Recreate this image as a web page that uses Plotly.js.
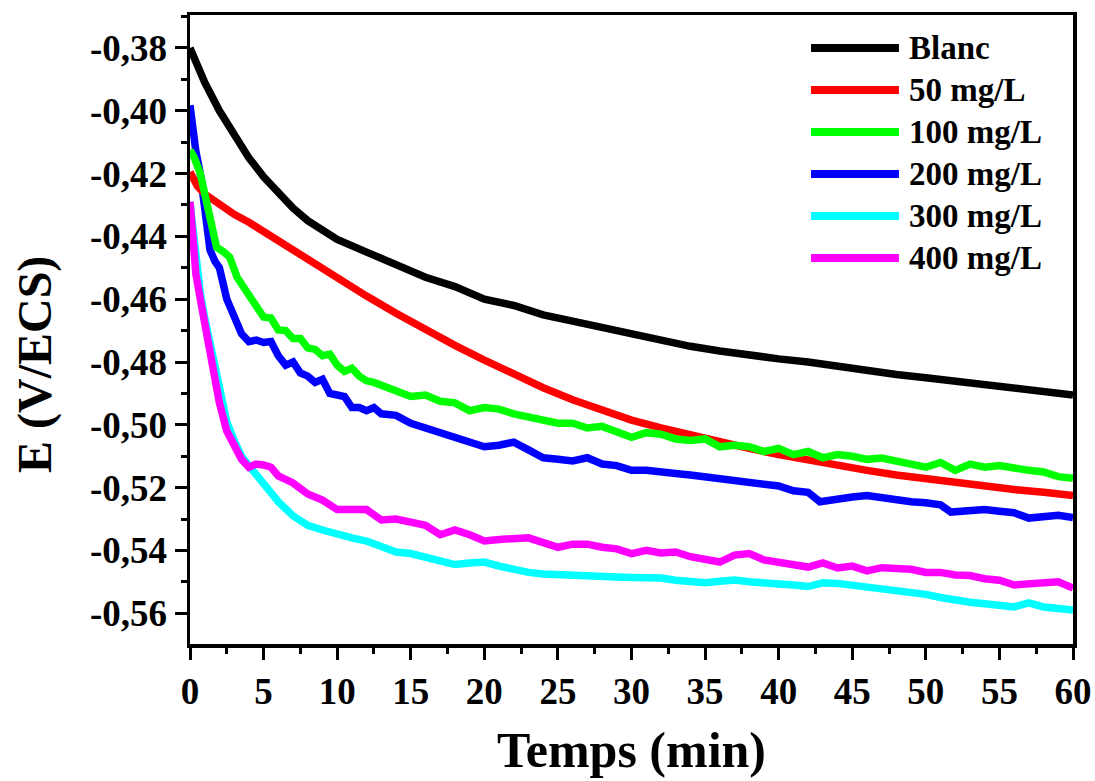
<!DOCTYPE html>
<html>
<head>
<meta charset="utf-8">
<script src="https://cdn.plot.ly/plotly-3.0.1.min.js"></script>
<style>
  html, body { margin: 0; padding: 0; background: #ffffff; }
  #chart { width: 1095px; height: 781px; }
</style>
</head>
<body>
<div id="chart"></div>
<script>
// ---- data ----
const seriesNames = ['Blanc', '50 mg/L', '100 mg/L', '200 mg/L', '300 mg/L', '400 mg/L'];
const seriesColors = ['#000000', '#ff0000', '#00ff00', '#0000ff', '#00ffff', '#ff00ff'];

const tBlanc = [0, 0.5, 1, 2, 3, 4, 5, 6, 7, 8, 9, 10, 12, 14, 16, 18, 20, 22, 24, 26, 28, 30, 32, 34, 36, 38, 40, 42, 44, 46, 48, 50, 52, 54, 56, 58, 60];
const eBlanc = [-0.380, -0.386, -0.391, -0.400, -0.408, -0.415, -0.421, -0.426, -0.431, -0.435, -0.438, -0.441, -0.445, -0.449, -0.453, -0.456, -0.460, -0.462, -0.465, -0.467, -0.469, -0.4715, -0.473, -0.475, -0.4765, -0.478, -0.479, -0.480, -0.4815, -0.483, -0.484, -0.485, -0.486, -0.487, -0.488, -0.489, -0.4905];

const t50 = [0, 0.5, 1, 2, 3, 4, 5, 6, 7, 8, 9, 10, 12, 14, 16, 18, 20, 22, 24, 26, 28, 30, 32, 34, 36, 38, 40, 42, 44, 46, 48, 50, 52, 54, 56, 58, 60];
const e50 = [-0.4195, -0.424, -0.4265, -0.430, -0.433, -0.4355, -0.4385, -0.4415, -0.4445, -0.4475, -0.4505, -0.4535, -0.459, -0.4645, -0.4697, -0.4747, -0.4794, -0.4840, -0.4882, -0.4920, -0.4955, -0.4985, -0.501, -0.5033, -0.5055, -0.5075, -0.5095, -0.5113, -0.513, -0.5145, -0.516, -0.5173, -0.5185, -0.5196, -0.5206, -0.5215, -0.5225];

const t100 = [0, 0.3, 0.7, 1.0, 1.36, 1.8, 2.3, 2.7, 3.2, 3.9, 4.5, 5, 5.5, 6, 6.5, 7, 7.5, 8, 8.5, 9, 9.5, 10, 10.5, 11, 11.5, 12, 12.5, 13, 14, 15, 16, 17, 18, 19, 20, 21, 22, 23, 24, 25, 26, 27, 28, 29, 30, 31, 32, 33, 34, 35, 36, 37, 38, 39, 40, 41, 42, 43, 44, 45, 46, 47, 48, 49, 50, 51, 52, 53, 54, 55, 56, 57, 58, 59, 60];
const e100 = [-0.4125, -0.415, -0.420, -0.427, -0.434, -0.4434, -0.445, -0.4466, -0.453, -0.458, -0.462, -0.4657, -0.466, -0.4698, -0.470, -0.4725, -0.4725, -0.4755, -0.476, -0.478, -0.4775, -0.481, -0.483, -0.482, -0.4845, -0.486, -0.4865, -0.4875, -0.489, -0.491, -0.4905, -0.4925, -0.493, -0.4955, -0.4945, -0.495, -0.4965, -0.4975, -0.498, -0.4995, -0.4995, -0.501, -0.5005, -0.5025, -0.504, -0.5025, -0.503, -0.5045, -0.505, -0.5045, -0.507, -0.5065, -0.507, -0.5085, -0.5075, -0.5095, -0.5085, -0.5105, -0.5095, -0.510, -0.511, -0.5106, -0.5115, -0.5125, -0.5135, -0.512, -0.5145, -0.5125, -0.5135, -0.513, -0.514, -0.5145, -0.515, -0.5165, -0.517];

const t200 = [0, 0.2, 0.4, 0.7, 1.0, 1.36, 1.7, 2, 2.5, 3, 3.5, 4, 4.5, 5, 5.5, 6, 6.5, 7, 7.5, 8, 8.5, 9, 9.5, 10, 10.5, 11, 11.5, 12, 12.5, 13, 14, 15, 16, 17, 18, 19, 20, 21, 22, 23, 24, 25, 26, 27, 28, 29, 30, 31, 32, 33, 34, 35, 36, 37, 38, 39, 40, 41, 42, 42.8, 44, 45, 46, 47, 48, 49, 50, 51, 51.7, 53, 54, 55, 56, 57, 58, 59, 60];
const e200 = [-0.3982, -0.406, -0.413, -0.420, -0.430, -0.4443, -0.448, -0.450, -0.460, -0.466, -0.471, -0.4735, -0.473, -0.4738, -0.4735, -0.478, -0.481, -0.480, -0.4835, -0.4845, -0.4865, -0.4855, -0.490, -0.4905, -0.491, -0.4945, -0.4945, -0.4955, -0.4945, -0.4965, -0.497, -0.4995, -0.501, -0.5025, -0.5035, -0.505, -0.507, -0.5065, -0.5055, -0.508, -0.5105, -0.511, -0.5115, -0.5105, -0.5125, -0.513, -0.5145, -0.5145, -0.5148, -0.5155, -0.516, -0.5165, -0.517, -0.518, -0.5185, -0.519, -0.5195, -0.521, -0.5215, -0.5245, -0.5235, -0.523, -0.5225, -0.5233, -0.524, -0.5245, -0.5248, -0.5255, -0.5278, -0.5275, -0.527, -0.5275, -0.528, -0.5297, -0.529, -0.5288, -0.5295];

const t300 = [0, 0.2, 0.4, 0.7, 1.0, 1.3, 1.6, 2.0, 2.5, 3.0, 3.5, 4.0, 4.5, 5, 6, 7, 8, 9, 10, 11, 12, 13, 14, 15, 16, 17, 18, 19, 20, 21, 22, 23, 24, 25, 26, 27, 28, 29, 30, 31, 32, 33, 34, 35, 36, 37, 38, 39, 40, 41, 42, 43, 44, 45, 46, 47, 48, 49, 50, 51, 52, 53, 54, 55, 56, 57, 58, 59, 60];
const e300 = [-0.429, -0.438, -0.449, -0.458, -0.466, -0.473, -0.480, -0.490, -0.499, -0.505, -0.510, -0.513, -0.516, -0.5185, -0.5245, -0.529, -0.532, -0.5335, -0.535, -0.536, -0.537, -0.539, -0.5405, -0.541, -0.542, -0.543, -0.5445, -0.544, -0.5437, -0.545, -0.5462, -0.547, -0.5475, -0.5478, -0.548, -0.5482, -0.5484, -0.5485, -0.5486, -0.5487, -0.5488, -0.5495, -0.550, -0.5503, -0.5498, -0.5494, -0.550, -0.5502, -0.5504, -0.551, -0.5515, -0.5503, -0.5505, -0.551, -0.552, -0.5525, -0.553, -0.5535, -0.554, -0.555, -0.556, -0.5565, -0.557, -0.5578, -0.558, -0.5567, -0.558, -0.5585, -0.559];

const t400 = [0, 0.2, 0.4, 0.7, 1.0, 1.3, 1.6, 2.0, 2.5, 3.0, 3.5, 4.0, 4.5, 5.0, 5.5, 6, 7, 8, 9, 10, 11, 12, 13, 14, 15, 16, 17, 18, 19, 20, 21, 22, 23, 24, 25, 26, 27, 28, 29, 30, 31, 32, 33, 34, 35, 36, 37, 38, 39, 40, 41, 42, 43, 44, 45, 46, 47, 48, 49, 50, 51, 52, 53, 54, 55, 56, 57, 58, 59, 60];
const e400 = [-0.429, -0.440, -0.452, -0.460, -0.468, -0.475, -0.4816, -0.493, -0.502, -0.507, -0.511, -0.5135, -0.5125, -0.5128, -0.5135, -0.5163, -0.5185, -0.522, -0.524, -0.527, -0.527, -0.527, -0.5303, -0.530, -0.531, -0.532, -0.535, -0.5335, -0.535, -0.537, -0.5365, -0.536, -0.536, -0.5375, -0.539, -0.538, -0.538, -0.539, -0.5395, -0.541, -0.540, -0.5408, -0.5405, -0.542, -0.543, -0.5437, -0.5415, -0.541, -0.543, -0.5437, -0.544, -0.5453, -0.544, -0.5456, -0.545, -0.5465, -0.5455, -0.5455, -0.546, -0.547, -0.547, -0.5478, -0.548, -0.549, -0.5495, -0.551, -0.5505, -0.5502, -0.550, -0.552];

const yTickVals = [-0.38, -0.40, -0.42, -0.44, -0.46, -0.48, -0.50, -0.52, -0.54, -0.56];
const yTickLabels = ['-0,38', '-0,40', '-0,42', '-0,44', '-0,46', '-0,48', '-0,50', '-0,52', '-0,54', '-0,56'];
const xTickVals = [0, 5, 10, 15, 20, 25, 30, 35, 40, 45, 50, 55, 60];
const xTickLabels = ['0', '5', '10', '15', '20', '25', '30', '35', '40', '45', '50', '55', '60'];

const xTitle = 'Temps (min)';
const yTitle = 'E (V/ECS)';

// ---- build ----
const FONT = 'Liberation Serif, Times New Roman, Times, serif';
const xs = [tBlanc, t50, t100, t200, t300, t400];
const ys = [eBlanc, e50, e100, e200, e300, e400];

const order = [4, 5, 3, 1, 2, 0];
const traces = order.map(i => ({
  type: 'scatter',
  mode: 'lines',
  x: xs[i],
  y: ys[i],
  name: seriesNames[i],
  line: { color: seriesColors[i], width: 7.5 },
  showlegend: false
}));

// custom legend (long line samples as in the reference)
const legTop = 0.9475, legStep = 0.0668;
const shapes = [];
const annotations = [];
seriesNames.forEach((nm, i) => {
  const yy = legTop - i * legStep;
  shapes.push({ type: 'line', xref: 'paper', yref: 'paper', x0: 0.7033, x1: 0.8029, y0: yy, y1: yy,
                line: { color: seriesColors[i], width: 8 } });
  annotations.push({ xref: 'paper', yref: 'paper', x: 0.812, y: yy, xanchor: 'left', yanchor: 'middle',
                     text: '<b>' + nm + '</b>', showarrow: false, font: { family: FONT, size: 33, color: '#000' } });
});
annotations.push({ xref: 'paper', yref: 'paper', x: -0.1755, y: 0.4436, xanchor: 'center', yanchor: 'middle',
                   text: '<b>' + yTitle + '</b>', textangle: -90, showarrow: false,
                   font: { family: FONT, size: 48, color: '#000' } });

const layout = {
  width: 1095, height: 781,
  margin: { l: 190, r: 22, t: 15, b: 137 },
  paper_bgcolor: '#ffffff', plot_bgcolor: '#ffffff',
  font: { family: FONT, color: '#000' },
  showlegend: false,
  xaxis: {
    range: [0, 60],
    tickvals: xTickVals, ticktext: xTickLabels.map(s => '<b>' + s + '</b>'),
    ticks: 'outside', ticklen: 12, tickwidth: 3, tickcolor: '#000',
    minor: { tickvals: [2.5, 7.5, 12.5, 17.5, 22.5, 27.5, 32.5, 37.5, 42.5, 47.5, 52.5, 57.5], ticks: 'outside', ticklen: 6, tickwidth: 3, tickcolor: '#000', showgrid: false },
    showline: true, linewidth: 3.5, linecolor: '#000', mirror: true,
    showgrid: false, zeroline: false,
    tickfont: { family: FONT, size: 37, color: '#000' },
    title: { text: '<b>' + xTitle + '</b>', font: { family: FONT, size: 50, color: '#000' }, standoff: 22 }
  },
  yaxis: {
    range: [-0.5698, -0.3695],
    tickvals: yTickVals, ticktext: yTickLabels.map(s => '<b>' + s + '</b>'),
    ticks: 'outside', ticklen: 12, tickwidth: 3, tickcolor: '#000',
    minor: { tickvals: [-0.37, -0.39, -0.41, -0.43, -0.45, -0.47, -0.49, -0.51, -0.53, -0.55, -0.57], ticks: 'outside', ticklen: 6, tickwidth: 3, tickcolor: '#000', showgrid: false },
    showline: true, linewidth: 3.5, linecolor: '#000', mirror: true,
    showgrid: false, zeroline: false,
    tickfont: { family: FONT, size: 37, color: '#000' }
  },
  shapes: shapes,
  annotations: annotations
};

Plotly.newPlot('chart', traces, layout, { displayModeBar: false, staticPlot: true });
</script>
</body>
</html>
